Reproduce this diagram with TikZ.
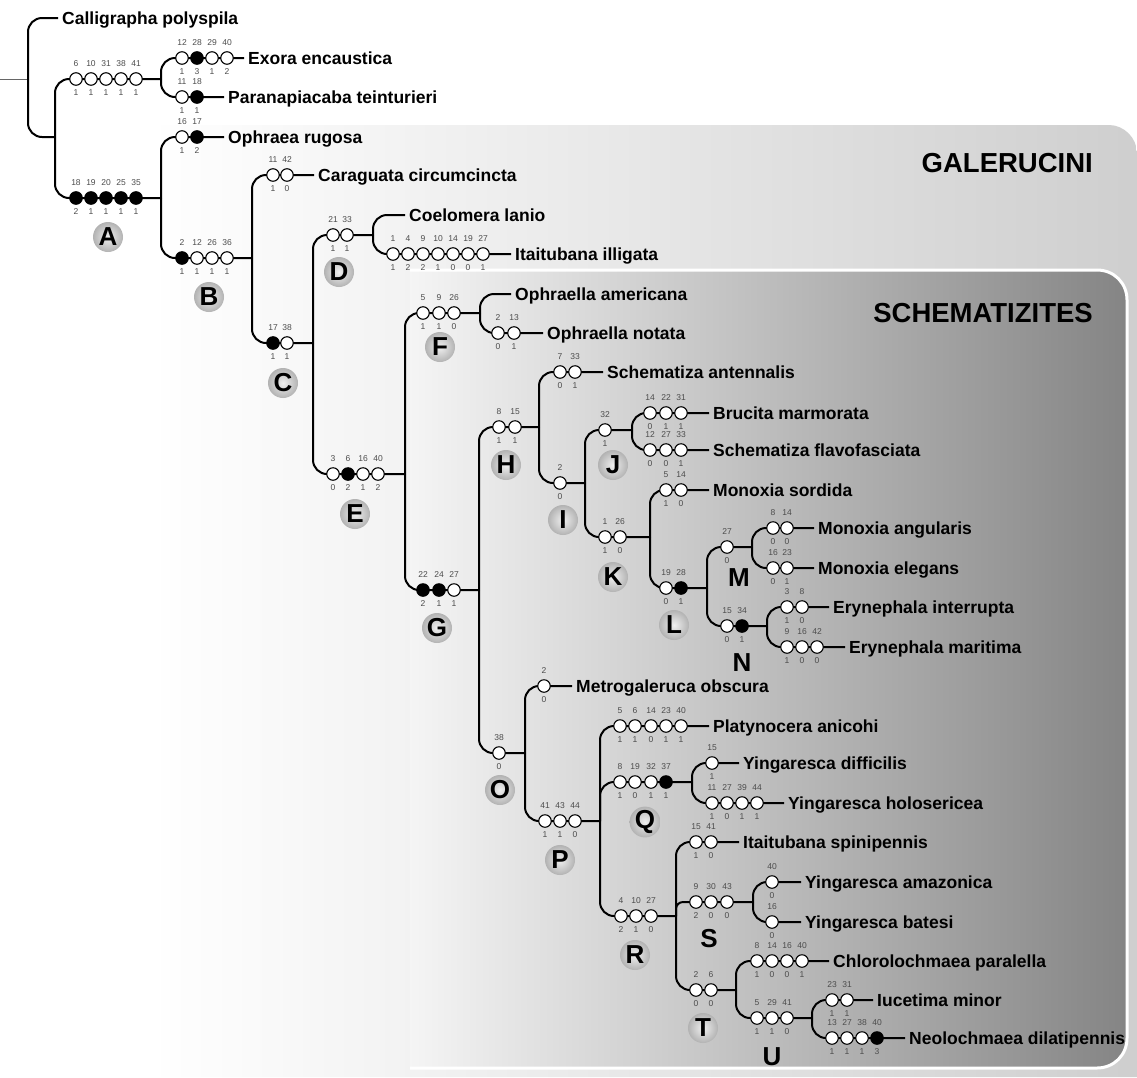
\documentclass[tikz,border=0pt]{standalone}
\usepackage{fontspec}
\setmainfont{Liberation Sans}
\newcommand\chars[3]{%
  \foreach \cx/\ct/\cb/\cf [count=\ci] in {#3} {%
    \node[chr, fill=\cf] (#1-\ci) at (\cx,#2) {};
    \node[num] at (\cx,#2-15) {\ct};
    \node[num] at (\cx,#2+14) {\cb};
  }%
}
\begin{document}
\begin{tikzpicture}[x=1pt,y=-1pt,
  br/.style={line width=2pt, rounded corners=14pt},
  chr/.style={circle, draw=black, line width=1.1pt, minimum size=12.5pt, inner sep=0pt},
  num/.style={font=\fontsize{8.5}{9}\selectfont, text=black!70, inner sep=0pt},
  taxon/.style={anchor=west, font=\fontsize{17.5}{20}\selectfont\bfseries, inner xsep=4pt, inner ysep=0pt, text height=12.5pt, text depth=0pt},
  badge/.style={circle, minimum size=30pt, inner sep=0pt, inner color=black!6, outer color=black!30, font=\fontsize{26}{28}\selectfont\bfseries},
  nobadge/.style={font=\fontsize{26}{28}\selectfont\bfseries, inner sep=0pt},
  tribe/.style={anchor=east, font=\fontsize{27.5}{30}\selectfont\bfseries, inner sep=0pt}
]
\useasboundingbox (0,0) rectangle (1137,1077);
% backgrounds
\shade[left color=white, middle color=black!10, right color=black!19]
  (150,1077) -- (150,125) -- (1109,125) .. controls (1124,125) and (1137,138) .. (1137,153) -- (1137,1077) -- cycle;
\shade[left color=black!4, middle color=black!27, right color=black!48]
  (410,1068) -- (410,270) -- (1097,270) .. controls (1114,270) and (1127,283) .. (1127,300) -- (1127,1038) .. controls (1127,1055) and (1114,1068) .. (1097,1068) -- cycle;
\draw[white, line width=3pt]
  (410,270) -- (1097,270) .. controls (1114,270) and (1127,283) .. (1127,300) -- (1127,1038) .. controls (1127,1055) and (1114,1068) .. (1097,1068) -- (410,1068);
\node[tribe] (gal) at (1093,163) {GALERUCINI};
\node[tribe] (sch) at (1093,313) {SCHEMATIZITES};
% branch points
\coordinate (stub) at (0,79);
\coordinate (root) at (28,79);
\coordinate (n1) at (55,137);
\coordinate (n2) at (161,79);
\coordinate (nA) at (161,198);
\coordinate (nB) at (252,258);
\coordinate (nC) at (313,343);
\coordinate (nD) at (373,235);
\coordinate (nE) at (405,474);
\coordinate (nF) at (480,313);
\coordinate (nG) at (479,590);
\coordinate (nH) at (539,427);
\coordinate (nI) at (585,483);
\coordinate (nJ) at (632,430);
\coordinate (nK) at (650,537);
\coordinate (nL) at (707,588);
\coordinate (nM) at (752,547);
\coordinate (nN) at (767,626);
\coordinate (nO) at (525,753);
\coordinate (nP) at (600,821);
\coordinate (nQ) at (692,782);
\coordinate (nR) at (676,916);
\coordinate (nS) at (753,902);
\coordinate (nT) at (736,990);
\coordinate (nU) at (812,1018);
% taxa
\node[taxon] (t1) at (58,18) {Calligrapha polyspila};
\node[taxon] (t2) at (244,58) {Exora encaustica};
\node[taxon] (t3) at (224,97) {Paranapiacaba teinturieri};
\node[taxon] (t4) at (224,137) {Ophraea rugosa};
\node[taxon] (t5) at (314,175) {Caraguata circumcincta};
\node[taxon] (t6) at (405,215) {Coelomera lanio};
\node[taxon] (t7) at (511,254) {Itaitubana illigata};
\node[taxon] (t8) at (511,294) {Ophraella americana};
\node[taxon] (t9) at (543,333) {Ophraella notata};
\node[taxon] (t10) at (603,372) {Schematiza antennalis};
\node[taxon] (t11) at (709,413) {Brucita marmorata};
\node[taxon] (t12) at (709,450) {Schematiza flavofasciata};
\node[taxon] (t13) at (709,490) {Monoxia sordida};
\node[taxon] (t14) at (814,528) {Monoxia angularis};
\node[taxon] (t15) at (814,568) {Monoxia elegans};
\node[taxon] (t16) at (829,607) {Erynephala interrupta};
\node[taxon] (t17) at (845,647) {Erynephala maritima};
\node[taxon] (t18) at (572,686) {Metrogaleruca obscura};
\node[taxon] (t19) at (709,726) {Platynocera anicohi};
\node[taxon] (t20) at (739,763) {Yingaresca difficilis};
\node[taxon] (t21) at (784,803) {Yingaresca holosericea};
\node[taxon] (t22) at (739,842) {Itaitubana spinipennis};
\node[taxon] (t23) at (801,882) {Yingaresca amazonica};
\node[taxon] (t24) at (801,922) {Yingaresca batesi};
\node[taxon] (t25) at (829,961) {Chlorolochmaea paralella};
\node[taxon] (t26) at (873,1000) {Iucetima minor};
\node[taxon] (t27) at (905,1038) {Neolochmaea dilatipennis};
% branches
\draw[line width=1pt, black!60] (stub) -- (root);
\draw[br] (root) |- (t1.west);
\draw[br] (root) |- (n1);
\draw[br] (n1) |- (n2);
\draw[br] (n1) |- (nA);
\draw[br] (n2) |- (t2.west);
\draw[br] (n2) |- (t3.west);
\draw[br] (nA) |- (t4.west);
\draw[br] (nA) |- (nB);
\draw[br] (nB) |- (t5.west);
\draw[br] (nB) |- (nC);
\draw[br] (nC) |- (nD);
\draw[br] (nC) |- (nE);
\draw[br] (nD) |- (t6.west);
\draw[br] (nD) |- (t7.west);
\draw[br] (nE) |- (nF);
\draw[br] (nE) |- (nG);
\draw[br] (nF) |- (t8.west);
\draw[br] (nF) |- (t9.west);
\draw[br] (nG) |- (nH);
\draw[br] (nG) |- (nO);
\draw[br] (nH) |- (t10.west);
\draw[br] (nH) |- (nI);
\draw[br] (nI) |- (nJ);
\draw[br] (nI) |- (nK);
\draw[br] (nJ) |- (t11.west);
\draw[br] (nJ) |- (t12.west);
\draw[br] (nK) |- (t13.west);
\draw[br] (nK) |- (nL);
\draw[br] (nL) |- (nM);
\draw[br] (nL) |- (nN);
\draw[br] (nM) |- (t14.west);
\draw[br] (nM) |- (t15.west);
\draw[br] (nN) |- (t16.west);
\draw[br] (nN) |- (t17.west);
\draw[br] (nO) |- (t18.west);
\draw[br] (nO) |- (nP);
\draw[br] (nP) |- (t19.west);
\draw[br] (nP) |- (nQ);
\draw[br] (nP) |- (nR);
\draw[br] (nQ) |- (t20.west);
\draw[br] (nQ) |- (t21.west);
\draw[br] (nR) |- (t22.west);
\draw[br, rounded corners=7pt] (nR) |- (nS);
\draw[br] (nR) |- (nT);
\draw[br] (nS) |- (t23.west);
\draw[br] (nS) |- (t24.west);
\draw[br] (nT) |- (t25.west);
\draw[br] (nT) |- (nU);
\draw[br] (nU) |- (t26.west);
\draw[br] (nU) |- (t27.west);
% characters
\chars{r0}{79}{76/6/1/white,91/10/1/white,106/31/1/white,121/38/1/white,136/41/1/white}
\chars{rA}{198}{76/18/2/black,91/19/1/black,106/20/1/black,121/25/1/black,136/35/1/black}
\chars{rEx}{58}{182/12/1/white,197/28/3/black,212/29/1/white,227/40/2/white}
\chars{rPa}{97}{182/11/1/white,197/18/1/black}
\chars{rOp}{137}{182/16/1/white,197/17/2/black}
\chars{rB}{258}{182/2/1/black,197/12/1/white,212/26/1/white,227/36/1/white}
\chars{rCa}{175}{273/11/1/white,287/42/0/white}
\chars{rC}{343}{273/17/1/black,287/38/1/white}
\chars{rD}{235}{333/21/1/white,347/33/1/white}
\chars{rIi}{254}{393/1/1/white,408/4/2/white,423/9/2/white,438/10/1/white,453/14/0/white,468/19/0/white,483/27/1/white}
\chars{rE}{474}{333/3/0/white,348/6/2/black,363/16/1/white,378/40/2/white}
\chars{rF}{313}{423/5/1/white,439/9/1/white,454/26/0/white}
\chars{rOn}{333}{498/2/0/white,514/13/1/white}
\chars{rG}{590}{423/22/2/black,439/24/1/black,454/27/1/white}
\chars{rH}{427}{499/8/1/white,515/15/1/white}
\chars{rSa}{372}{560/7/0/white,575/33/1/white}
\chars{rI}{483}{560/2/0/white}
\chars{rJ}{430}{605/32/1/white}
\chars{rBm}{413}{650/14/0/white,666/22/1/white,681/31/1/white}
\chars{rSf}{450}{650/12/0/white,666/27/0/white,681/33/1/white}
\chars{rK}{537}{605/1/1/white,620/26/0/white}
\chars{rMs}{490}{666/5/1/white,681/14/0/white}
\chars{rL}{588}{666/19/0/white,681/28/1/black}
\chars{rM}{547}{727/27/0/white}
\chars{rMa}{528}{773/8/0/white,787/14/0/white}
\chars{rMe}{568}{773/16/0/white,787/23/1/white}
\chars{rN}{626}{727/15/0/white,742/34/1/black}
\chars{rEi}{607}{787/3/1/white,802/8/0/white}
\chars{rEm}{647}{787/9/1/white,802/16/0/white,817/42/0/white}
\chars{rO}{753}{499/38/0/white}
\chars{rMo}{686}{544/2/0/white}
\chars{rP}{821}{545/41/1/white,560/43/1/white,575/44/0/white}
\chars{rPl}{726}{620/5/1/white,635/6/1/white,651/14/0/white,666/23/1/white,681/40/1/white}
\chars{rQ}{782}{620/8/1/white,635/19/0/white,651/32/1/white,666/37/1/black}
\chars{rYd}{763}{712/15/1/white}
\chars{rYh}{803}{712/11/1/white,727/27/0/white,742/39/1/white,757/44/1/white}
\chars{rR}{916}{621/4/2/white,636/10/1/white,651/27/0/white}
\chars{rIs}{842}{696/15/1/white,711/41/0/white}
\chars{rS}{902}{696/9/2/white,711/30/0/white,727/43/0/white}
\chars{rYa}{882}{772/40/0/white}
\chars{rYb}{922}{772/16/0/white}
\chars{rT}{990}{696/2/0/white,711/6/0/white}
\chars{rCp}{961}{757/8/1/white,772/14/0/white,787/16/0/white,802/40/1/white}
\chars{rU}{1018}{757/5/1/white,772/29/1/white,787/41/0/white}
\chars{rIm}{1000}{832/23/1/white,847/31/1/white}
\chars{rNd}{1038}{832/13/1/white,847/27/1/white,862/38/1/white,877/40/3/black}
% clade badges
\node[badge] (bA) at (108,237) {A};
\node[badge] (bB) at (209,297) {B};
\node[badge] (bC) at (283,383) {C};
\node[badge] (bD) at (339,272) {D};
\node[badge] (bE) at (355,514) {E};
\node[badge] (bF) at (440,347) {F};
\node[badge] (bG) at (437,628) {G};
\node[badge] (bH) at (506,465) {H};
\node[badge] (bI) at (563,520) {I};
\node[badge] (bJ) at (613,465) {J};
\node[badge] (bK) at (613,577) {K};
\node[badge] (bL) at (674,625) {L};
\node[nobadge] (bM) at (739,578) {M};
\node[nobadge] (bN) at (742,663) {N};
\node[badge] (bO) at (500,790) {O};
\node[badge] (bP) at (560,860) {P};
\node[badge] (bQ) at (645,822) {Q};
\node[badge] (bR) at (635,955) {R};
\node[nobadge] (bS) at (709,939) {S};
\node[badge] (bT) at (703,1028) {T};
\node[nobadge] (bU) at (772,1057) {U};
\end{tikzpicture}
\end{document}
